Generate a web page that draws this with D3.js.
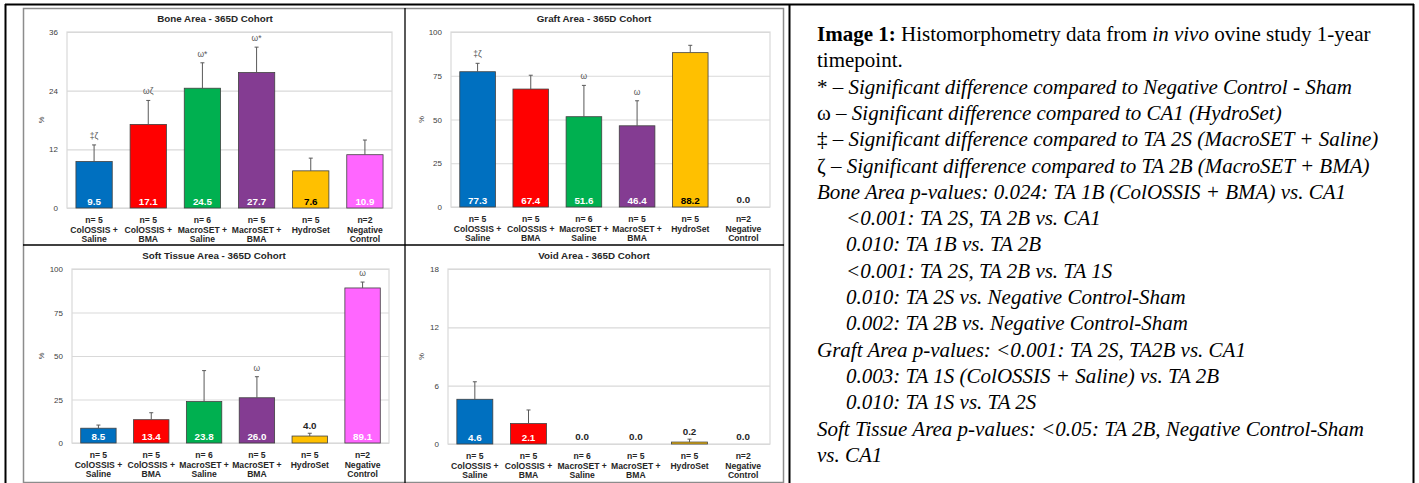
<!DOCTYPE html>
<html>
<head>
<meta charset="utf-8">
<script src="https://cdn.jsdelivr.net/npm/d3@7"></script>
<style>
  body { margin: 0; background: #fff; }
  svg { display: block; }
</style>
</head>
<body>
<script>
// groups (x labels, three lines each)
var nLabels = ["n= 5", "n= 5", "n= 6", "n= 5", "n= 5", "n=2"];
var nameLine1 = ["ColOSSIS +", "ColOSSIS +", "MacroSET +", "MacroSET +", "HydroSet", "Negative"];
var nameLine2 = ["Saline", "BMA", "Saline", "BMA", "", "Control"];
var barColors = ["#0070C0", "#FF0000", "#00B050", "#843C92", "#FFC000", "#FF66FF"];

// Bone area
var boneMean = [9.5, 17.1, 24.5, 27.7, 7.6, 10.9];
var boneSD = [3.4, 4.9, 5.2, 5.2, 2.6, 3.0];
var boneMarks = ["‡ζ", "ωζ", "ω*", "ω*", "", ""];
var boneTicks = [0, 12, 24, 36];

// Graft area
var graftMean = [77.3, 67.4, 51.6, 46.4, 88.2, 0.0];
var graftSD = [4.8, 7.9, 17.9, 14.3, 4.2, 0];
var graftMarks = ["‡ζ", "", "ω", "ω", "", ""];
var graftTicks = [0, 25, 50, 75, 100];

// Soft tissue area
var softMean = [8.5, 13.4, 23.8, 26.0, 4.0, 89.1];
var softSD = [1.8, 4.0, 17.8, 12.1, 1.6, 3.4];
var softMarks = ["", "", "", "ω", "", "ω"];
var softTicks = [0, 25, 50, 75, 100];

// Void area
var voidMean = [4.6, 2.1, 0.0, 0.0, 0.2, 0.0];
var voidSD = [1.8, 1.4, 0, 0, 0.3, 0];
var voidMarks = ["", "", "", "", "", ""];
var voidTicks = [0, 6, 12, 18];

var W = 1419, H = 483;
var svg = d3.select("body").append("svg")
    .attr("width", W)
    .attr("height", H);

svg.append("rect").attr("width", W).attr("height", H).attr("fill", "#fff");

// composite figure frame + separators
svg.append("rect")
    .attr("x", 23.5).attr("y", 8.5)
    .attr("width", 760).attr("height", 474)
    .attr("fill", "none").attr("stroke", "#8c8c8c").attr("stroke-width", 1.5);
svg.append("line").attr("x1", 405).attr("x2", 405).attr("y1", 8).attr("y2", 483)
    .attr("stroke", "#000").attr("stroke-width", 1.3);
svg.append("line").attr("x1", 23).attr("x2", 784).attr("y1", 245).attr("y2", 245)
    .attr("stroke", "#000").attr("stroke-width", 1.3);

// outer table borders
svg.append("line").attr("x1", 5).attr("x2", 1414).attr("y1", 4.5).attr("y2", 4.5)
    .attr("stroke", "#000").attr("stroke-width", 2);
svg.append("line").attr("x1", 5.5).attr("x2", 5.5).attr("y1", 4).attr("y2", H)
    .attr("stroke", "#000").attr("stroke-width", 2);
svg.append("line").attr("x1", 789.5).attr("x2", 789.5).attr("y1", 4).attr("y2", H)
    .attr("stroke", "#000").attr("stroke-width", 2);
svg.append("line").attr("x1", 1413.5).attr("x2", 1413.5).attr("y1", 4).attr("y2", H)
    .attr("stroke", "#000").attr("stroke-width", 2);

var panels = [
  {title: "Bone Area - 365D Cohort", mean: boneMean, sd: boneSD, marks: boneMarks, ticks: boneTicks,
   x0: 67, x1: 392, y0: 32, y1: 208, titleX: 215, titleY: 21.5, pctX: 44},
  {title: "Graft Area - 365D Cohort", mean: graftMean, sd: graftSD, marks: graftMarks, ticks: graftTicks,
   x0: 451, x1: 770, y0: 32, y1: 207, titleX: 594, titleY: 21.5, pctX: 424},
  {title: "Soft Tissue Area - 365D Cohort", mean: softMean, sd: softSD, marks: softMarks, ticks: softTicks,
   x0: 72, x1: 389, y0: 269, y1: 443, titleX: 214, titleY: 258.5, pctX: 44},
  {title: "Void Area - 365D Cohort", mean: voidMean, sd: voidSD, marks: voidMarks, ticks: voidTicks,
   x0: 448, x1: 770, y0: 269, y1: 444, titleX: 594, titleY: 258.5, pctX: 424}
];

var sans = "'Liberation Sans', Arial, sans-serif";

panels.forEach(function(p) {
  var g = svg.append("g");
  var idx = d3.range(p.mean.length);

  var x = d3.scaleBand().domain(idx).range([p.x0, p.x1])
      .paddingInner(0.33).paddingOuter(0.165);
  var y = d3.scaleLinear().domain([0, d3.max(p.ticks)]).range([p.y1, p.y0]);

  // title
  g.append("text")
      .attr("x", p.titleX).attr("y", p.titleY)
      .attr("text-anchor", "middle")
      .style("font-family", sans).style("font-size", "9.8px").style("font-weight", "bold")
      .attr("fill", "#262626")
      .text(p.title);

  // plot area frame
  g.append("rect")
      .attr("x", p.x0).attr("y", p.y0)
      .attr("width", p.x1 - p.x0).attr("height", p.y1 - p.y0)
      .attr("fill", "none").attr("stroke", "#d9d9d9").attr("stroke-width", 1.2);

  // gridlines + y axis labels
  var yAxis = d3.axisLeft(y).tickValues(p.ticks).tickSize(-(p.x1 - p.x0)).tickPadding(9);
  var ya = g.append("g").attr("transform", "translate(" + p.x0 + ",0)").call(yAxis);
  ya.select(".domain").remove();
  ya.selectAll(".tick line").attr("stroke", "#d9d9d9").attr("stroke-width", 1.2);
  ya.selectAll(".tick text")
      .style("font-family", sans).style("font-size", "8px")
      .attr("fill", "#404040");

  // y label
  g.append("text")
      .attr("transform", "translate(" + p.pctX + "," + ((p.y0 + p.y1) / 2) + ") rotate(-90)")
      .attr("text-anchor", "middle")
      .style("font-family", sans).style("font-size", "7.5px")
      .attr("fill", "#404040")
      .text("%");

  // bars
  g.selectAll(".bar").data(idx).enter().append("rect")
      .attr("class", "bar")
      .attr("x", function(i) { return x(i); })
      .attr("y", function(i) { return y(p.mean[i]); })
      .attr("width", x.bandwidth())
      .attr("height", function(i) { return y(0) - y(p.mean[i]); })
      .attr("fill", function(i) { return barColors[i]; })
      .attr("stroke", function(i) { return p.mean[i] > 0 ? "#404040" : "none"; })
      .attr("stroke-width", 0.8);

  // error bars (upper only)
  var eb = g.selectAll(".err").data(idx.filter(function(i) { return p.sd[i] > 0; }))
      .enter().append("g").attr("class", "err");
  eb.append("line")
      .attr("x1", function(i) { return x(i) + x.bandwidth() / 2; })
      .attr("x2", function(i) { return x(i) + x.bandwidth() / 2; })
      .attr("y1", function(i) { return y(p.mean[i]); })
      .attr("y2", function(i) { return y(p.mean[i] + p.sd[i]); })
      .attr("stroke", "#595959").attr("stroke-width", 1);
  eb.append("line")
      .attr("x1", function(i) { return x(i) + x.bandwidth() / 2 - 2; })
      .attr("x2", function(i) { return x(i) + x.bandwidth() / 2 + 2; })
      .attr("y1", function(i) { return y(p.mean[i] + p.sd[i]); })
      .attr("y2", function(i) { return y(p.mean[i] + p.sd[i]); })
      .attr("stroke", "#595959").attr("stroke-width", 1);

  // significance marks
  g.selectAll(".mark").data(idx.filter(function(i) { return p.marks[i] !== ""; }))
      .enter().append("text")
      .attr("class", "mark")
      .attr("x", function(i) { return x(i) + x.bandwidth() / 2; })
      .attr("y", function(i) { return y(p.mean[i] + p.sd[i]) - 6; })
      .attr("text-anchor", "middle")
      .style("font-family", sans).style("font-size", "8.5px")
      .attr("fill", "#595959")
      .text(function(i) { return p.marks[i]; });

  // value labels
  g.selectAll(".val").data(idx).enter().append("text")
      .attr("class", "val")
      .attr("x", function(i) { return x(i) + x.bandwidth() / 2; })
      .attr("y", function(i) {
        var h = y(0) - y(p.mean[i]);
        if (h >= 12) return y(0) - 3;
        return y(p.mean[i] + p.sd[i]) - 4;
      })
      .attr("text-anchor", "middle")
      .style("font-family", sans).style("font-size", "9.8px").style("font-weight", "bold")
      .attr("fill", function(i) {
        var h = y(0) - y(p.mean[i]);
        if (h < 12) return "#262626";
        return i === 4 ? "#000" : "#fff";
      })
      .text(function(i) { return d3.format(".1f")(p.mean[i]); });

  // x labels
  var xl = g.selectAll(".xl").data(idx).enter().append("text")
      .attr("class", "xl")
      .attr("text-anchor", "middle")
      .style("font-family", sans).style("font-size", "8.6px").style("font-weight", "bold")
      .attr("fill", "#262626");
  [nLabels, nameLine1, nameLine2].forEach(function(arr, k) {
    xl.append("tspan")
        .attr("x", function(i) { return x(i) + x.bandwidth() / 2; })
        .attr("y", p.y1 + 15 + k * 9.6)
        .text(function(i) { return arr[i]; });
  });
});

// caption panel
var captionLines = [
  {indent: 0, parts: [["Image 1:", "b"], [" Histomorphometry data from ", "r"], ["in vivo", "i"], [" ovine study 1-year", "r"]]},
  {indent: 0, parts: [["timepoint.", "r"]]},
  {indent: 0, parts: [["* – ", "r"], ["Significant difference compared to Negative Control - Sham", "i"]]},
  {indent: 0, parts: [["ω – ", "r"], ["Significant difference compared to CA1 (HydroSet)", "i"]]},
  {indent: 0, parts: [["‡ – ", "r"], ["Significant difference compared to TA 2S (MacroSET + Saline)", "i"]]},
  {indent: 0, parts: [["ζ – ", "r"], ["Significant difference compared to TA 2B (MacroSET + BMA)", "i"]]},
  {indent: 0, parts: [["Bone Area p-values: 0.024: TA 1B (ColOSSIS + BMA) vs. CA1", "i"]]},
  {indent: 1, parts: [["<0.001: TA 2S, TA 2B vs. CA1", "i"]]},
  {indent: 1, parts: [["0.010: TA 1B vs. TA 2B", "i"]]},
  {indent: 1, parts: [["<0.001: TA 2S, TA 2B vs. TA 1S", "i"]]},
  {indent: 1, parts: [["0.010: TA 2S vs. Negative Control-Sham", "i"]]},
  {indent: 1, parts: [["0.002: TA 2B vs. Negative Control-Sham", "i"]]},
  {indent: 0, parts: [["Graft Area p-values: <0.001: TA 2S, TA2B vs. CA1", "i"]]},
  {indent: 1, parts: [["0.003: TA 1S (ColOSSIS + Saline) vs. TA 2B", "i"]]},
  {indent: 1, parts: [["0.010: TA 1S vs. TA 2S", "i"]]},
  {indent: 0, parts: [["Soft Tissue Area p-values: <0.05: TA 2B, Negative Control-Sham", "i"]]},
  {indent: 0, parts: [["vs. CA1", "i"]]}
];

var cap = svg.append("g")
    .style("font-family", "'Liberation Serif', 'Times New Roman', serif")
    .style("font-size", "21px")
    .attr("fill", "#000");

captionLines.forEach(function(line, k) {
  var t = cap.append("text")
      .attr("x", 817 + line.indent * 29)
      .attr("y", 41 + k * 26.3)
      .attr("xml:space", "preserve");
  line.parts.forEach(function(part) {
    t.append("tspan")
        .style("font-weight", part[1] === "b" ? "bold" : "normal")
        .style("font-style", part[1] === "i" ? "italic" : "normal")
        .text(part[0]);
  });
});
</script>
</body>
</html>
